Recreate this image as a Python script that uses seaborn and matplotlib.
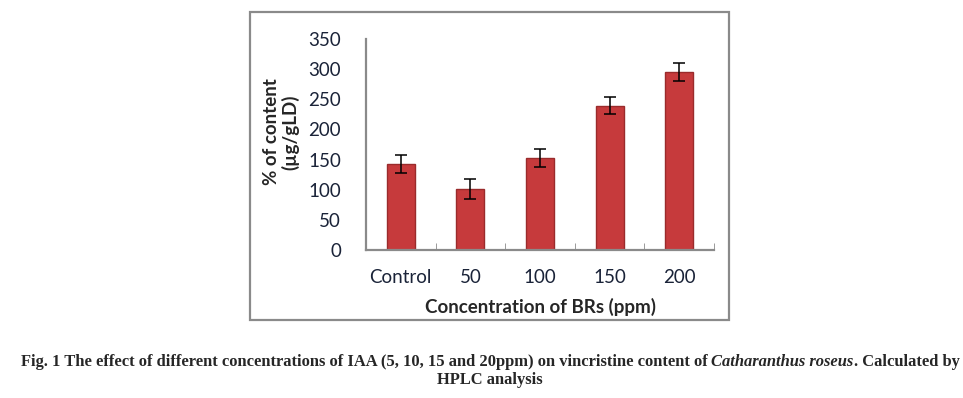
import numpy as np
import pandas as pd
import seaborn as sns
import matplotlib.pyplot as plt
from matplotlib.patches import Rectangle

categories = ['Control', '50', '100', '150', '200']
content = [142, 101, 153, 239, 296]
errors = [15, 16, 15, 14, 15]

df = pd.DataFrame({'conc': categories, 'content': content})

sns.set_style('white')
plt.rcParams['font.family'] = ['Lato', 'DejaVu Sans']

fig = plt.figure(figsize=(9.63, 3.98), dpi=100)
ax = fig.add_axes([0.380, 0.372, 0.3615, 0.530])

sns.barplot(data=df, x='conc', y='content', color='#C63A3C', width=0.4,
            edgecolor='#9A2B2C', linewidth=1.0, saturation=1, ax=ax)
ax.errorbar(np.arange(len(categories)), content, yerr=errors, fmt='none',
            ecolor='black', elinewidth=1.1, capsize=4, capthick=1.1)

ax.set_ylim(0, 350)
ax.set_xlim(-0.5, 4.5)
ax.set_yticks(range(0, 351, 50))
ax.set_xticks(np.arange(-0.5, 5, 1), minor=True)

for s in ['top', 'right']:
    ax.spines[s].set_visible(False)
for s in ['left', 'bottom']:
    ax.spines[s].set_color('#8a8a8a')
    ax.spines[s].set_linewidth(1.6)

ax.tick_params(axis='y', direction='in', length=5, color='#8a8a8a',
               labelsize=13.5, labelcolor='#1a2338', pad=18)
ax.tick_params(axis='x', which='major', length=0, labelsize=13.5,
               labelcolor='#1a2338', pad=14)
ax.tick_params(axis='x', which='minor', direction='in', length=5,
               color='#8a8a8a', bottom=True)

ax.set_xlabel('Concentration of BRs (ppm)', fontsize=13.5, fontweight='bold',
              labelpad=8)
ax.set_ylabel('% of content\n(µg/gLD)', fontsize=13.5, fontweight='bold',
              linespacing=1.1)
ax.yaxis.set_label_coords(-0.19, 0.56)

# outer frame around the chart
fig.patches.append(Rectangle((250 / 963, 1 - 320 / 398), 479 / 963, 308 / 398,
                             transform=fig.transFigure, fill=False,
                             edgecolor='#8a8a8a', linewidth=1.6))

# caption, line 1 built from pieces so the species name can be italic
cap_kw = dict(fontsize=11.9, fontweight='bold', family='Liberation Serif',
              va='baseline', ha='left')
pieces = [('Fig. 1 The effect of different concentrations of IAA (5, 10, 15 and 20ppm) '
           'on vincristine content of', 'normal'),
          ('Catharanthus roseus', 'italic'),
          ('. Calculated by', 'normal')]
gaps = [0, 1, 0]  # space before each piece
cap_center = 490
y1 = 1 - 366 / 398
fig.canvas.draw()
r = fig.canvas.get_renderer()
sp = fig.text(0, 0, 'a a', **cap_kw)
sa = fig.text(0, 0, 'aa', **cap_kw)
space_w = sp.get_window_extent(r).width - sa.get_window_extent(r).width
sp.remove()
sa.remove()

texts = [fig.text(0, y1, s, style=st, **cap_kw) for s, st in pieces]
widths = [t.get_window_extent(r).width for t in texts]
total = sum(widths) + space_w * sum(gaps)
x = cap_center - total / 2
for t, w, g in zip(texts, widths, gaps):
    x += g * space_w
    t.set_x(x / 963)
    x += w

fig.text(cap_center / 963, 1 - 384 / 398, 'HPLC analysis',
         **{**cap_kw, 'ha': 'center'})

plt.savefig('out.png', dpi=100)
